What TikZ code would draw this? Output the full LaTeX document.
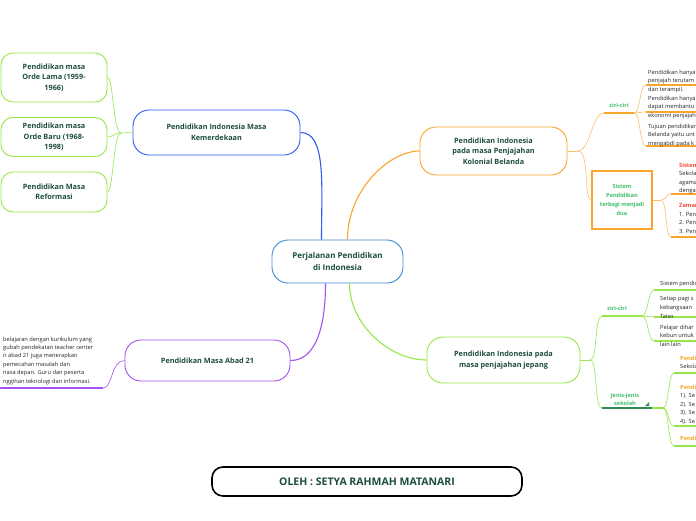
\documentclass[tikz,border=0pt]{standalone}
\usepackage{fontspec}
\setmainfont{Open Sans}
\usetikzlibrary{calc}
\definecolor{mmtext}{HTML}{1D4E3C}
\definecolor{mmblue}{HTML}{2E5CF6}
\definecolor{mmsky}{HTML}{3D8BDB}
\definecolor{mmorange}{HTML}{F9A52B}
\definecolor{mmlime}{HTML}{97E64A}
\definecolor{mmgreen}{HTML}{3CBF6A}
\definecolor{mmdark}{HTML}{2E8B57}
\definecolor{mmpurple}{HTML}{A552F0}
\definecolor{mmred}{HTML}{EE4B3B}

\begin{document}
\begin{tikzpicture}[x=1pt, y=-1pt,
  topic/.style={draw, rounded corners=16pt, line width=0.9pt, fill=white, align=center,
    text=mmtext, font=\bfseries\fontsize{7.3}{10.5}\selectfont, inner sep=2pt},
  leaf/.style={anchor=north west, inner sep=0pt, align=left, text=black!85,
    font=\fontsize{5.7}{8.6}\selectfont},
  tag/.style={inner sep=0pt, align=center, text=mmgreen,
    font=\bfseries\fontsize{5.6}{8.2}\selectfont},
  trunk/.style={line width=1.1pt},
  twig/.style={line width=0.6pt},
  bar/.style={line width=1.6pt}]
  \clip (0,0) rectangle (696,520);
  \fill[white] (0,0) rectangle (696,520);

  \node[topic, draw=mmsky, minimum width=131pt, minimum height=43pt,
        font=\bfseries\fontsize{8}{11.5}\selectfont] (root) at (337.5,261.5)
    {Perjalanan Pendidikan\\di Indonesia};

  \node[topic, draw=mmblue, minimum width=167pt, minimum height=45pt] (kemer) at (216.5,132.5)
    {Pendidikan Indonesia Masa\\Kemerdekaan};
  \node[topic, draw=mmlime, rounded corners=12pt, minimum width=106pt, minimum height=49pt] (lama) at (54,77.5)
    {Pendidikan masa\\Orde Lama (1959-\\1966)};
  \node[topic, draw=mmlime, rounded corners=12pt, minimum width=106pt, minimum height=39pt] (baru) at (54,137)
    {Pendidikan masa\\Orde Baru (1968-\\1998)};
  \node[topic, draw=mmlime, rounded corners=12pt, minimum width=106pt, minimum height=40pt] (reform) at (54,192)
    {Pendidikan Masa\\Reformasi};

  \node[topic, draw=mmorange, minimum width=147pt, minimum height=48pt] (belanda) at (493.5,151)
    {Pendidikan Indonesia\\pada masa Penjajahan\\Kolonial Belanda};
  \node[topic, draw=mmlime, minimum width=153pt, minimum height=46pt] (jepang) at (503.5,360)
    {Pendidikan Indonesia pada\\masa penjajahan jepang};
  \node[topic, draw=mmpurple, minimum width=165pt, minimum height=41pt] (abad) at (207.5,360.5)
    {Pendidikan Masa Abad 21};
  \node[topic, draw=black, line width=1.6pt, rounded corners=11pt, minimum width=310pt,
        minimum height=29pt, font=\bfseries\fontsize{10.5}{12}\selectfont] (oleh) at (367,481.5)
    {OLEH : SETYA RAHMAH MATANARI};

  \draw[trunk, mmblue] ($(root.north)+(-16,0)$) .. controls +(0,-55) and +(26,0) .. (kemer.east);
  \draw[trunk, mmorange] ($(root.north)+(10,0)$) .. controls +(0,-50) and +(-30,0) .. (belanda.west);
  \draw[trunk, mmlime] ($(root.south)+(12,0)$) .. controls +(0,42) and +(-36,0) .. (jepang.west);
  \draw[trunk, mmpurple] ($(root.south)+(-12,0)$) .. controls +(0,42) and +(26,0) .. (abad.east);

  \coordinate (kj) at (121,133);
  \draw[twig, mmlime] (kemer.west) -- (kj);
  \draw[twig, mmlime] (kj) .. controls +(-8,0) and +(6,0) .. (lama.east);
  \draw[twig, mmlime] (kj) .. controls +(-8,0) and +(6,0) .. (baru.east);
  \draw[twig, mmlime] (kj) .. controls +(-8,0) and +(6,0) .. (reform.east);

  % kolonial belanda
  \coordinate (bj) at (578,151);
  \coordinate (c1a) at (604,113);
  \coordinate (c1b) at (634,113);
  \node[tag] (ciri1) at (619,105) {ciri-ciri};
  \node[draw=mmorange, line width=1.5pt, minimum width=60pt, minimum height=58pt, inner sep=1pt,
        tag, font=\bfseries\fontsize{5.6}{8.8}\selectfont] (sys) at (622,200)
    {Sistem\\Pendidikan\\terbagi menjadi\\dua};
  \draw[twig, mmorange!70] (belanda.east) -- (bj);
  \draw[twig, mmorange!70] (bj) .. controls +(12,0) and +(-12,0) .. (c1a);
  \draw[twig, mmorange!70] (bj) .. controls +(12,0) and +(-8,0) .. (sys.west);
  \draw[bar, mmorange] (c1a) -- (c1b);
  \foreach \y [count=\i] in {85,112,146} {
    \coordinate (o\i) at (646,\y);
    \coordinate (oe\i) at (700,\y);
    \draw[twig, mmorange!70] (c1b) .. controls +(7,0) and +(-7,0) .. (o\i);
    \draw[bar, mmorange] (o\i) -- (oe\i);
  }
  \node[leaf] (ob1) at (648,69.5) {Pendidikan hanya\\penjajah terutam\\dan terampil.};
  \node[leaf] (ob2) at (648,95.5) {Pendidikan hanya\\dapat membantu\\ekonomi penjajah};
  \node[leaf] (ob3) at (648,123.5) {Tujuan pendidikan\\Belanda yaitu unt\\mengabdi pada k};

  \coordinate (sj) at (661,200);
  \draw[twig, mmorange!70] (sys.east) -- (sj);
  \foreach \y [count=\i] in {194,237} {
    \coordinate (s\i) at (671,\y);
    \coordinate (se\i) at (700,\y);
    \draw[twig, mmorange!70] (sj) .. controls +(6,0) and +(-6,0) .. (s\i);
    \draw[bar, mmorange] (s\i) -- (se\i);
  }
  \node[leaf] (sb1) at (679,162.5) {{\color{mmred}\bfseries Sistem}\\Sekolah\\agama\\dengan};
  \node[leaf] (sb2) at (679,203.5) {{\color{mmred}\bfseries Zaman}\\1. Pend\\2. Pend\\3. Pend};

  % penjajahan jepang
  \coordinate (gj) at (590,360);
  \coordinate (g1a) at (602,316);
  \coordinate (g1b) at (642,316);
  \coordinate (g2a) at (602,408);
  \coordinate (g2m) at (652,408);
  \coordinate (g2b) at (663,408);
  \node[tag] (ciri2) at (617,308) {ciri-ciri};
  \node[tag] (jenis) at (625,399) {Jenis-jenis\\sekolah};
  \fill[mmdark] (645,406) -- (649,406) -- (649,402) -- cycle;
  \draw[twig, mmlime] (jepang.east) -- (gj);
  \draw[twig, mmlime] (gj) .. controls +(8,0) and +(-8,0) .. (g1a);
  \draw[twig, mmlime] (gj) .. controls +(8,0) and +(-8,0) .. (g2a);
  \draw[bar, mmlime] (g1a) -- (g1b);
  \draw[bar, mmdark] (g2a) -- (g2m);
  \draw[bar, mmlime] (g2m) -- (g2b);
  \foreach \y [count=\i] in {290,317,341} {
    \coordinate (j\i) at (654,\y);
    \coordinate (je\i) at (700,\y);
    \draw[twig, mmlime] (g1b) .. controls +(6,0) and +(-6,0) .. (j\i);
    \draw[bar, mmlime] (j\i) -- (je\i);
  }
  \node[leaf] (jb1) at (660,280.5) {Sistem pendidikan};
  \node[leaf] (jb2) at (660,296.5) {Setiap pagi s\\kebangsaan\\Taiso};
  \node[leaf] (jb3) at (660,324.5) {Pelajar dihar\\kebun untuk\\lain lain};
  \foreach \y [count=\i] in {373,426,446} {
    \coordinate (k\i) at (674,\y);
    \coordinate (ke\i) at (700,\y);
    \draw[twig, mmlime] (g2b) .. controls +(6,0) and +(-6,0) .. (k\i);
    \draw[bar, mmlime] (k\i) -- (ke\i);
  }
  \node[leaf] (kb1) at (680,355.5) {{\color{mmorange}\bfseries Pendi}\\Sekolah};
  \node[leaf] (kb2) at (680,384.5) {{\color{mmorange}\bfseries Pendi}\\1). Se\\2). Se\\3). Se\\4). Se};
  \node[leaf] (kb3) at (680,435.5) {{\color{mmorange}\bfseries Pendi}};

  % abad 21
  \coordinate (pa) at (103,388);
  \coordinate (pe) at (-4,388);
  \draw[twig, mmpurple] (abad.west) .. controls +(-14,0) and +(10,0) .. (pa);
  \draw[bar, mmpurple] (pa) -- (pe);
  \node[leaf, font=\fontsize{5.7}{8.4}\selectfont] (ab) at (3,336.5)
    {belajaran dengan kurikulum yang\\gubah pendekatan teacher center\\n abad 21 juga menerapkan\\pemecahan masalah dan\\nasa depan. Guru dan peserta\\nggihan teknologi dan informasi.};
\end{tikzpicture}
\end{document}
